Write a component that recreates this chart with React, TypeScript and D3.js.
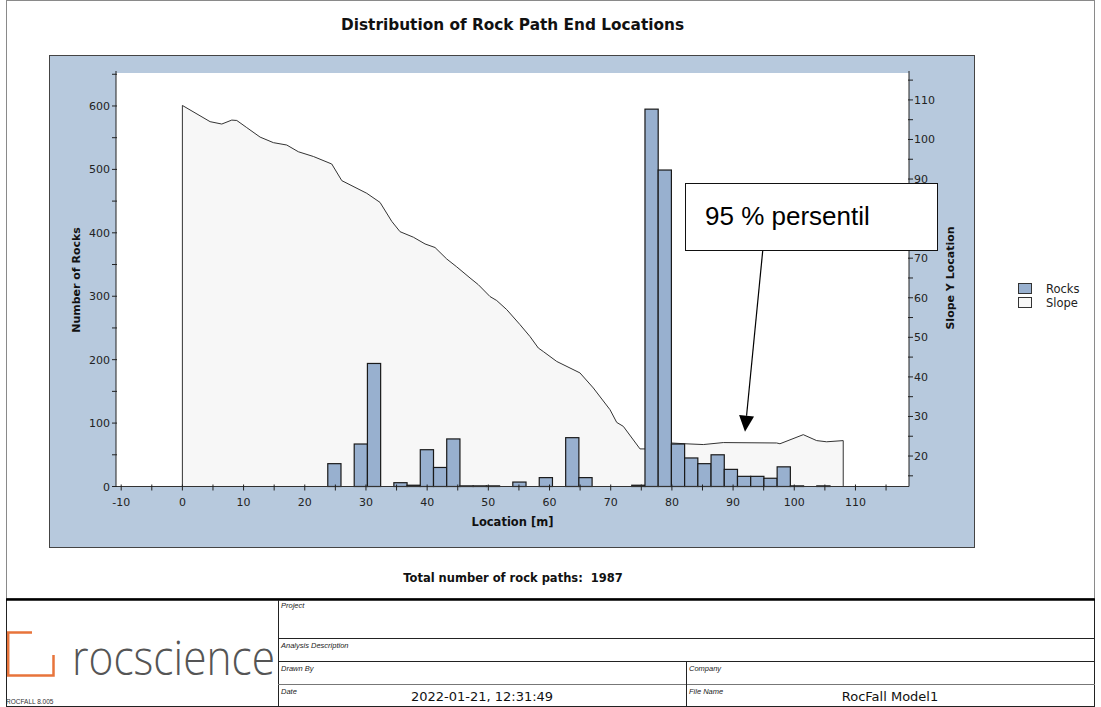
import React from "react";
import * as d3 from "d3";

// ---------- data ----------
const slopeX = [0, 4.53, 6.44, 8.07, 8.89, 10.52, 12.7, 14.87, 17.06, 18.95, 21.41, 24.41, 26.05, 30.13, 32.3, 34.22, 35.57, 37.75, 39.66, 41.29, 43.2, 44.84, 47.01, 48.37, 50.28, 51.37, 53.01, 55.18, 56.81, 58.17, 58.99, 61.18, 64.98, 67.16, 69.89, 70.98, 72.06, 74.79, 75.6, 77.2, 78.9, 79.85, 82.14, 85.13, 88.4, 97.12, 97.66, 101.47, 103.66, 105.29, 108.0];
const slopeY = [108.6, 104.5, 103.9, 104.9, 104.8, 103.0, 100.6, 99.2, 98.6, 96.9, 95.7, 93.8, 89.6, 86.4, 84.1, 79.3, 76.7, 75.3, 73.6, 72.7, 69.8, 67.8, 65.0, 63.3, 60.3, 59.3, 57.0, 53.2, 50.2, 47.3, 46.4, 43.9, 41.0, 37.2, 31.7, 28.5, 27.5, 21.8, 21.8, 22.4, 23.1, 23.3, 23.1, 22.9, 23.4, 23.3, 23.1, 25.4, 23.9, 23.6, 23.9];

const binCount = 50;
const slopeEnd = 108;
const rockCounts = [
  0, 0, 0, 0, 0, 0, 0, 0, 0, 0,
  0, 36, 0, 67, 194, 0, 6, 2, 58, 30,
  75, 1, 1, 1, 0, 7, 0, 14, 0, 77,
  14, 0, 0, 0, 2, 595, 499, 67, 45, 36,
  50, 27, 16, 16, 13, 31, 1, 0, 1, 0,
];

const xTicks = [-10, 0, 10, 20, 30, 40, 50, 60, 70, 80, 90, 100, 110];
const xMinorTicks = d3.range(-10, 116, 5);
const leftTicks = [0, 100, 200, 300, 400, 500, 600];
const leftMinorTicks = d3.range(0, 651, 50);
const rightTicks = [20, 30, 40, 50, 60, 70, 80, 90, 100, 110];
const rightMinorTicks = d3.range(15, 116, 5);

const legendItems = ["Rocks", "Slope"];
const totalPaths = 1987;

// ---------- layout ----------
const W = 1101;
const H = 707;
const plotL = 116, plotR = 909, plotT = 73, plotB = 486.5;

const BAR_FILL = "#98b0cf";
const PANEL = "#b7c9dd";
const FONT = "'DejaVu Sans', Verdana, sans-serif";

export default function App() {
  const x = d3.scaleLinear().domain([-10.85, 118.75]).range([plotL, plotR]);
  const yL = d3.scaleLinear().domain([0, 652]).range([plotB, plotT]);
  const yR = d3.scaleLinear().domain([12.3, 116.8]).range([plotB, plotT]);

  const slopePts: [number, number][] = slopeX.map((v, i) => [v, slopeY[i]]);
  const area = d3
    .area<[number, number]>()
    .x((d) => x(d[0]))
    .y0(plotB)
    .y1((d) => yR(d[1]));
  const line = d3
    .line<[number, number]>()
    .x((d) => x(d[0]))
    .y((d) => yR(d[1]));
  const slopeOutline =
    `M${x(slopeX[0])},${plotB}L` +
    line(slopePts)!.slice(1) +
    `L${x(slopeX[slopeX.length - 1])},${plotB}`;

  const binW = slopeEnd / binCount;

  // arrow
  const a0: [number, number] = [762.7, 251];
  const a1: [number, number] = [745, 431.7];
  const dx = a1[0] - a0[0], dy = a1[1] - a0[1];
  const len = Math.hypot(dx, dy);
  const ux = dx / len, uy = dy / len;
  const hl = 16, hw = 7.5;
  const bx = a1[0] - ux * hl, by = a1[1] - uy * hl;
  const head = `M${a1[0]},${a1[1]}L${bx - uy * hw},${by + ux * hw}L${bx + uy * hw},${by - ux * hw}Z`;

  return (
    <svg
      width={W}
      height={H}
      style={{ position: "absolute", left: 0, top: 0, display: "block", background: "#fff" }}
      fontFamily={FONT}
    >
      {/* page frame */}
      <rect x={6.5} y={0.5} width={1088} height={598} fill="#fff" stroke="#8a8a8a" />

      <text x={512.5} y={30} textAnchor="middle" fontWeight="bold" fontSize={15} textLength={343} lengthAdjust="spacingAndGlyphs" fill="#111">
        Distribution of Rock Path End Locations
      </text>

      {/* panel */}
      <rect x={49.5} y={55.5} width={925} height={492} fill={PANEL} stroke="#444" strokeWidth={1} />
      <rect x={plotL} y={plotT} width={plotR - plotL} height={plotB - plotT} fill="#fff" />

      {/* slope area */}
      <path d={area(slopePts)!} fill="#f7f7f7" stroke="none" />
      <path d={slopeOutline} fill="none" stroke="#333" strokeWidth={1} />

      {/* bars */}
      {rockCounts.map((c, i) =>
        c > 0 ? (
          <rect
            key={i}
            x={x(i * binW)}
            y={yL(c)}
            width={x((i + 1) * binW) - x(i * binW)}
            height={plotB - yL(c)}
            fill={BAR_FILL}
            stroke="#1a1a1a"
            strokeWidth={1.2}
          />
        ) : null
      )}

      {/* x axis */}
      <line x1={plotL} x2={plotR} y1={plotB} y2={plotB} stroke="#333" />
      {xMinorTicks.map((t) => (
        <line key={"xm" + t} x1={x(t)} x2={x(t)} y1={plotB - 2} y2={plotB + 4} stroke="#222" />
      ))}
      {xTicks.map((t) => (
        <text key={"xt" + t} x={x(t)} y={506} textAnchor="middle" fontSize={11} fill="#222">
          {t}
        </text>
      ))}

      {/* left axis */}
      <line x1={plotL} x2={plotL} y1={plotT - 2} y2={plotB} stroke="#222" />
      {leftMinorTicks.map((t) => (
        <line key={"lm" + t} x1={plotL - 4} x2={plotL + 1} y1={yL(t)} y2={yL(t)} stroke="#222" />
      ))}
      {leftTicks.map((t) => (
        <text key={"lt" + t} x={110} y={yL(t) + 4} textAnchor="end" fontSize={11} fill="#222">
          {t}
        </text>
      ))}

      {/* right axis */}
      <line x1={plotR} x2={plotR} y1={plotT - 2} y2={plotB} stroke="#222" />
      {rightMinorTicks.map((t) => (
        <line key={"rm" + t} x1={plotR - 1} x2={plotR + 4} y1={yR(t)} y2={yR(t)} stroke="#222" />
      ))}
      {rightTicks.map((t) => (
        <text key={"rt" + t} x={914} y={yR(t) + 4} textAnchor="start" fontSize={11} fill="#222">
          {t}
        </text>
      ))}

      {/* axis titles */}
      <text x={512.5} y={526} textAnchor="middle" fontWeight="bold" fontSize={11.5} fill="#111">
        Location [m]
      </text>
      <text transform="translate(80,280) rotate(-90)" textAnchor="middle" fontWeight="bold" fontSize={11} fill="#111">
        Number of Rocks
      </text>
      <text transform="translate(954,278) rotate(-90)" textAnchor="middle" fontWeight="bold" fontSize={11} fill="#111">
        Slope Y Location
      </text>

      {/* annotation */}
      <rect x={685.5} y={183.5} width={252} height={67} fill="#fff" stroke="#111" strokeWidth={1} />
      <text x={705} y={225} fontFamily="'Liberation Sans', Arial, sans-serif" fontSize={26} fill="#000">
        95 % persentil
      </text>
      <line x1={a0[0]} y1={a0[1]} x2={bx} y2={by} stroke="#000" strokeWidth={1.2} />
      <path d={head} fill="#000" />

      {/* legend */}
      {legendItems.map((name, i) => (
        <g key={name}>
          <rect x={1018.5} y={283.5 + i * 14} width={13} height={10} fill={i === 0 ? BAR_FILL : "#f7f7f7"} stroke="#333" />
          <text x={1046} y={293 + i * 14} fontSize={11.5} fill="#222">
            {name}
          </text>
        </g>
      ))}

      <text x={513} y={582} textAnchor="middle" fontWeight="bold" fontSize={11.5} fill="#111" style={{ whiteSpace: "pre" }}>
        {`Total number of rock paths:  ${totalPaths}`}
      </text>

      {/* title block */}
      <rect x={6.5} y={599.5} width={1088} height={107} fill="#fff" stroke="#222" strokeWidth={1} />
      <line x1={6} x2={1095} y1={599.5} y2={599.5} stroke="#000" strokeWidth={2.5} />
      <line x1={278.5} x2={278.5} y1={600} y2={707} stroke="#222" />
      <line x1={278} x2={1095} y1={638.5} y2={638.5} stroke="#222" />
      <line x1={278} x2={1095} y1={661.5} y2={661.5} stroke="#222" />
      <line x1={278} x2={1095} y1={684.5} y2={684.5} stroke="#777" />
      <line x1={686.5} x2={686.5} y1={661} y2={707} stroke="#222" />

      {[
        ["Project", 281, 608],
        ["Analysis Description", 281, 648],
        ["Drawn By", 281, 671],
        ["Date", 281, 694],
        ["Company", 689, 671],
        ["File Name", 689, 694],
      ].map(([t, tx, ty]) => (
        <text key={t as string} x={tx as number} y={ty as number} fontSize={7.5} fontStyle="italic" fill="#222" fontFamily="'Liberation Sans', Arial, sans-serif">
          {t}
        </text>
      ))}
      <text x={482} y={701} textAnchor="middle" fontSize={13} fill="#111">
        2022-01-21, 12:31:49
      </text>
      <text x={890} y={701} textAnchor="middle" fontSize={13} fill="#111">
        RocFall Model1
      </text>

      {/* logo */}
      <path d="M32,632.5 H8.2 V675.5 H53.5 V655" fill="none" stroke="#e8743b" strokeWidth={2.5} />
      <g transform="translate(72,675) scale(1,1.2)">
        <text x={0} y={0} fontSize={40} fontFamily="'Open Sans', sans-serif" fontWeight={300} fill="#555" textLength={203} lengthAdjust="spacingAndGlyphs">
          rocscience
        </text>
      </g>
      <text x={6} y={704} fontSize={6.5} fill="#333" fontFamily="'Liberation Sans', Arial, sans-serif">
        ROCFALL 8.005
      </text>
    </svg>
  );
}
